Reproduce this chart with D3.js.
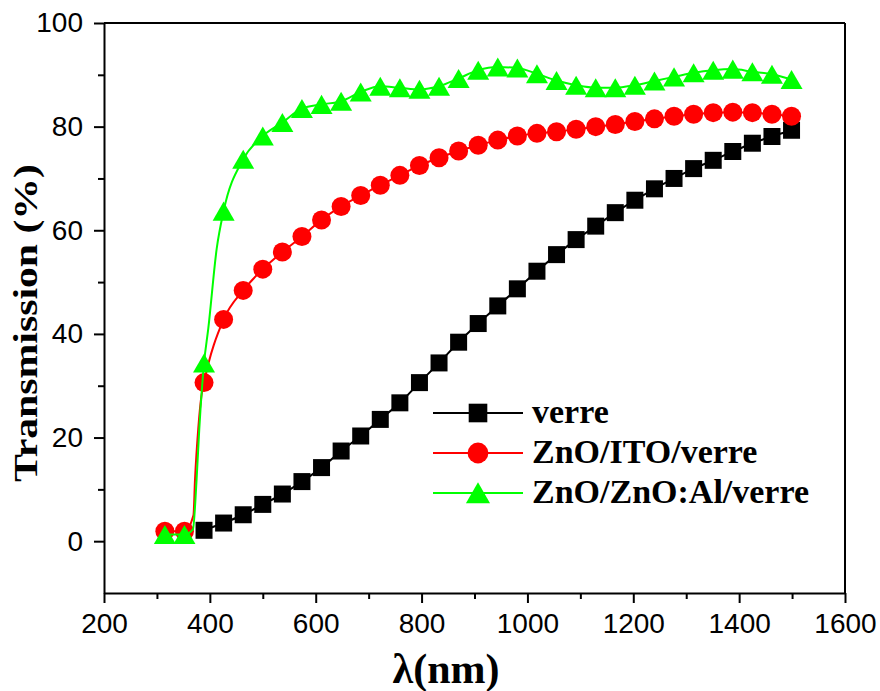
<!DOCTYPE html>
<html>
<head>
<meta charset="utf-8">
<script src="https://cdn.jsdelivr.net/npm/d3@7"></script>
<style>
  body { margin: 0; background: #fff; }
  text { fill: #000; }
</style>
</head>
<body>
<svg id="chart" width="880" height="691"></svg>
<script>
// wavelengths (nm) where the markers sit
const wavelength = [315, 352, 389, 426, 463, 500, 537, 574, 611, 648, 685, 722, 759, 796, 833,
    870, 907, 944, 981, 1018, 1055, 1092, 1129, 1166, 1203, 1240, 1277, 1314, 1351, 1388, 1425, 1462, 1499];

// transmission (%)
const verre = [null, null, 2.1, 3.5, 5.1, 7.1, 9.1, 11.5, 14.2, 17.4, 20.3, 23.5, 26.7, 30.6, 34.4,
    38.4, 42.0, 45.4, 48.7, 52.1, 55.3, 58.2, 60.8, 63.4, 65.8, 68.0, 70.0, 71.9, 73.5, 75.2, 76.8, 78.1, 79.3];
const znoIto = [1.9, 1.9, 30.6, 42.8, 48.4, 52.5, 55.8, 58.8, 62.0, 64.6, 66.7, 68.7, 70.6, 72.5, 74.0,
    75.3, 76.4, 77.4, 78.2, 78.7, 79.0, 79.5, 80.0, 80.4, 81.0, 81.5, 82.0, 82.4, 82.7, 82.8, 82.7, 82.4, 82.0];
const znoAzo = [1.3, 1.3, 34.4, 63.7, 73.7, 78.2, 80.8, 83.5, 84.3, 84.9, 86.7, 87.8, 87.5, 87.2, 87.8,
    89.3, 90.9, 91.5, 91.3, 90.2, 88.9, 88.0, 87.5, 87.5, 88.0, 88.8, 89.6, 90.4, 90.9, 91.1, 90.6, 90.1, 89.1];

// extra curve points on the absorption edge (no marker there)
const znoItoEdge = [[369, 5], [372, 12], [378, 21.6], [384, 28]];
const znoAzoEdge = [[368, 2.3], [375, 12], [380, 21.6], [397, 41], [413, 56.5]];

const seriesNames = ["verre", "ZnO/ITO/verre", "ZnO/ZnO:Al/verre"];
const seriesColors = ["#000000", "#ff0000", "#00ff00"];

const xTicks = [200, 400, 600, 800, 1000, 1200, 1400, 1600];
const xMinor = [300, 500, 700, 900, 1100, 1300, 1500];
const yTicks = [0, 20, 40, 60, 80, 100];
const yMinor = [10, 30, 50, 70, 90];

let svg = d3.select("#chart");

let x = d3.scaleLinear().domain([200, 1600]).range([104, 845]);
let y = d3.scaleLinear().domain([-10, 100]).range([593, 23]);

function makeSeries(values, edge){
    let pts = wavelength.map((w, i) => ({x: w, y: values[i], marker: true}))
        .filter(d => d.y != null);
    let line = pts.concat((edge || []).map(d => ({x: d[0], y: d[1], marker: false})));
    line.sort((a, b) => a.x - b.x);
    return {markers: pts, line: line};
}

let series = [
    makeSeries(verre),
    makeSeries(znoIto, znoItoEdge),
    makeSeries(znoAzo, znoAzoEdge)
];

// axes
svg.append("g")
    .attr("transform", "translate(0,593)")
    .call(d3.axisBottom(x).tickValues(xTicks).tickFormat(d3.format("d"))
        .tickSize(10).tickSizeOuter(0).tickPadding(10));
svg.append("g")
    .attr("transform", "translate(0,593)")
    .call(d3.axisBottom(x).tickValues(xMinor).tickSize(6).tickSizeOuter(0).tickFormat(""))
    .select(".domain").remove();

svg.append("g")
    .attr("transform", "translate(104,0)")
    .call(d3.axisLeft(y).tickValues(yTicks).tickFormat(d3.format("d"))
        .tickSize(10).tickSizeOuter(0).tickPadding(11));
svg.append("g")
    .attr("transform", "translate(104,0)")
    .call(d3.axisLeft(y).tickValues(yMinor).tickSize(6).tickSizeOuter(0).tickFormat(""))
    .select(".domain").remove();

svg.selectAll(".tick line, .domain").attr("stroke", "#000").attr("stroke-width", 2);
svg.selectAll(".tick text")
    .style("font-family", "'Liberation Sans', Arial, sans-serif")
    .style("font-size", "28px")
    .attr("fill", "#000");

// top and right frame
svg.append("line").attr("x1", 104).attr("x2", 845).attr("y1", 23).attr("y2", 23)
    .attr("stroke", "#000").attr("stroke-width", 2);
svg.append("line").attr("x1", 845).attr("x2", 845).attr("y1", 23).attr("y2", 593)
    .attr("stroke", "#000").attr("stroke-width", 2);

// titles
svg.append("text")
    .attr("x", 446).attr("y", 683)
    .attr("text-anchor", "middle")
    .style("font-family", "'Liberation Serif', 'Times New Roman', serif")
    .style("font-weight", "bold")
    .style("font-size", "42px")
    .text("λ(nm)");

svg.append("text")
    .attr("transform", "translate(37,323) rotate(-90)")
    .attr("text-anchor", "middle")
    .attr("textLength", 318)
    .attr("lengthAdjust", "spacingAndGlyphs")
    .style("font-family", "'Liberation Serif', 'Times New Roman', serif")
    .style("font-weight", "bold")
    .style("font-size", "34px")
    .text("Transmission (%)");

// markers
const symbolTypes = [d3.symbolSquare, d3.symbolCircle, d3.symbolTriangle];
const symbolSizes = [17 * 17, Math.PI * 9.5 * 9.5, Math.sqrt(3) / 4 * 22 * 22];

function symbolOffset(i){
    // d3 triangles sit on their centroid, shift to the box centre
    if (i !== 2) return 0;
    return Math.sqrt(symbolSizes[2] / (Math.sqrt(3) * 3)) / 2;
}

let lineGen = d3.line()
    .x(d => x(d.x))
    .y(d => y(d.y))
    .curve(d3.curveMonotoneX);

series.forEach((s, i) => {
    svg.append("path")
        .attr("d", lineGen(s.line))
        .attr("fill", "none")
        .attr("stroke", seriesColors[i])
        .attr("stroke-width", 2);

    svg.append("g").selectAll("path")
        .data(s.markers)
        .enter().append("path")
        .attr("d", d3.symbol().type(symbolTypes[i]).size(symbolSizes[i]))
        .attr("transform", d => "translate(" + x(d.x) + "," + (y(d.y) + symbolOffset(i)) + ")")
        .attr("fill", seriesColors[i]);
});

// legend
let legend = svg.append("g");
seriesNames.forEach((name, i) => {
    let ly = 413 + i * 40;
    legend.append("line")
        .attr("x1", 433).attr("x2", 523).attr("y1", ly).attr("y2", ly)
        .attr("stroke", seriesColors[i]).attr("stroke-width", 2);
    legend.append("path")
        .attr("d", d3.symbol().type(symbolTypes[i]).size(symbolSizes[i] * 1.2))
        .attr("transform", "translate(478," + (ly + symbolOffset(i)) + ")")
        .attr("fill", seriesColors[i]);
    legend.append("text")
        .attr("x", 532).attr("y", ly + 10)
        .style("font-family", "'Liberation Serif', 'Times New Roman', serif")
        .style("font-weight", "bold")
        .style("font-size", "34px")
        .text(name);
});
</script>
</body>
</html>
